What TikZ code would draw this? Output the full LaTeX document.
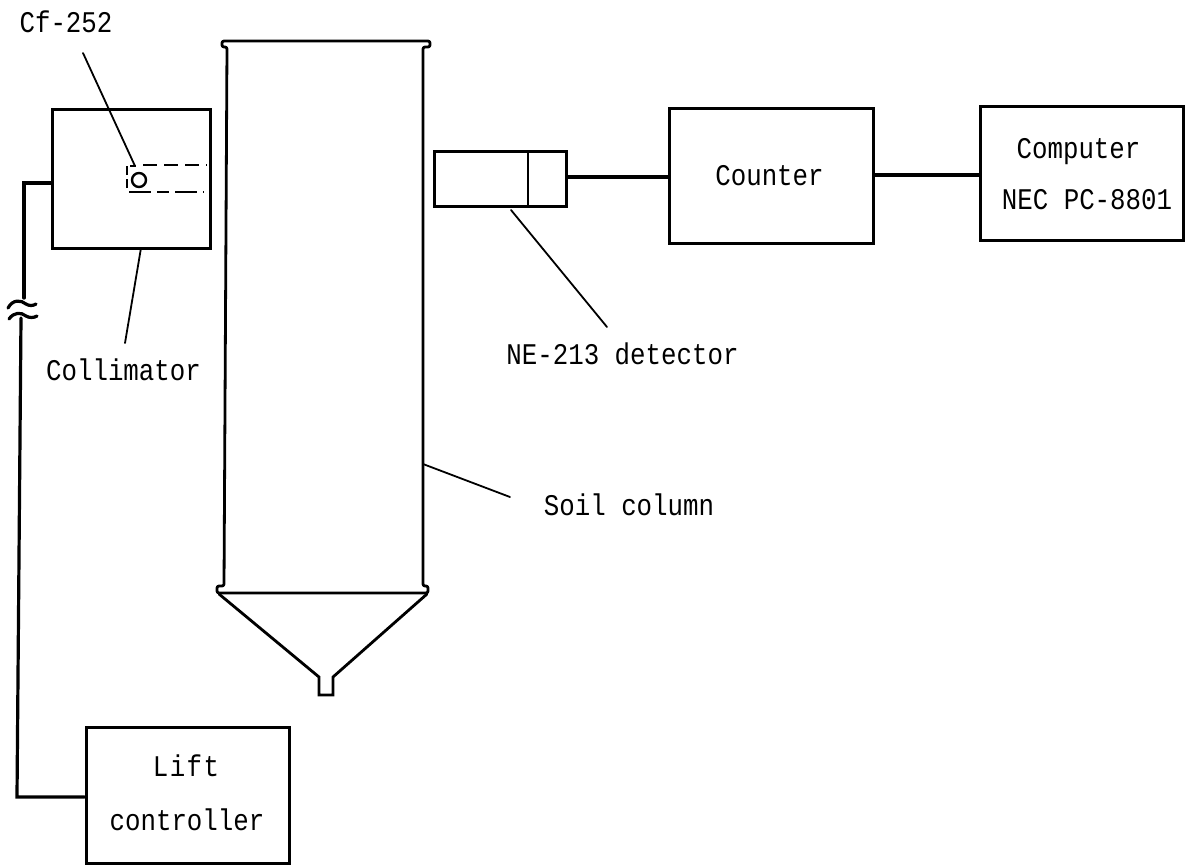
\documentclass[tikz,border=0pt]{standalone}
\usepackage{fontspec}
\setmainfont{Liberation Mono}[FakeStretch=0.86]
\usetikzlibrary{calc}
\tikzset{
  x=1pt,y=-1pt,
  wire/.style={line width=3.2pt,line join=miter,line cap=round},
  rim/.style={line width=2.8pt,line join=round,rounded corners=2pt},
  dashwire/.style={line width=2.8pt},
  thin wire/.style={line width=1.8pt,line cap=round},
  box/.style={draw,line width=3pt,inner sep=0pt},
  lbl/.style={inner sep=0pt,font=\fontsize{30}{34}\selectfont}
}
\begin{document}
\begin{tikzpicture}
\useasboundingbox (0,0) rectangle (1185,865);
% boxes
\node[box,minimum width=158pt,minimum height=139pt] (coll) at (131,178.5) {};
\node[box,minimum width=203pt,minimum height=136pt] (lift) at (187.5,795) {};
\node[box,minimum width=204pt,minimum height=135pt] (counter) at (771,175.5) {};
\node[box,minimum width=203pt,minimum height=134pt] (comp) at (1081.5,173) {};
\node[box,minimum width=132pt,minimum height=55pt] (det) at (500,178.5) {};
\draw[thin wire] (528,151) -- (528,206);
% soil column
\draw[rim] (224,586) -- (227,47) -- (222,47) -- (222,41) -- (430,41) -- (430,47) -- (423,47) -- (423,586) -- (428,586) -- (428,593) -- (217,593) -- (217,586) -- cycle;
\node[inner sep=0pt,minimum size=0pt] (colR) at (423,464) {};
% funnel
\draw[wire,line width=2.8pt] (219,594) -- (319,677) -- (319,695) -- (333,695) -- (333,677) -- (427,594);
% source
\node[circle,draw,line width=2.4pt,minimum size=14pt,inner sep=0pt] (src) at (139,180) {};
\draw[dashwire,dash pattern=on 9pt off 4pt on 9pt off 3pt] (127,188) -- (127,166) -- (136,166);
\draw[dashwire,dash pattern=on 14pt off 7pt] (143,165) -- (207,165);
\draw[dashwire,dash pattern=on 22pt off 6pt on 12pt off 6pt] (129,192) -- (204,192);
% connectors
\coordinate (w1) at (24,183);
\coordinate (w2) at (24,298);
\coordinate (w3) at (21,318);
\coordinate (w4) at (17,797);
\draw[wire] (coll.west |- w1) -- (w1) -- (w2);
\draw[wire] (w3) -- (w4) -- (lift.west |- w4);
\draw[wire] (8,308) .. controls (13,299) and (21,300) .. (26,304) .. controls (29,306) and (33,306) .. (36,304);
\draw[wire] (9,319) .. controls (14,312) and (21,312) .. (26,316) .. controls (29,318) and (34,318) .. (37,316);
\draw[wire] (det.east |- 0,177) -- (counter.west |- 0,177);
\draw[wire] (counter.east |- 0,175) -- (comp.west |- 0,175);
% labels
\node[lbl] (cf) at (66,22) {Cf-252};
\node[lbl] (colltx) at (123.5,370) {Collimator};
\node[lbl] (lifttx) at (186,766) {\addfontfeatures{LetterSpace=5}Lift};
\node[lbl] (ctrltx) at (187,820) {controller};
\node[lbl] (cnt) at (769.5,176) {Counter};
\node[lbl] (comp1) at (1078.5,152) {Computer};
\node[lbl] (comp2) at (1087,200) {NEC PC-8801};
\node[lbl] (netx) at (622.5,354) {NE-213 detector};
\node[lbl] (soil) at (629,505) {Soil column};
% leaders
\coordinate (l1) at (83,53);
\coordinate (l2) at (135,166);
\coordinate (l3) at (141,248);
\coordinate (l4) at (125,343);
\coordinate (l5) at (511,210);
\coordinate (l6) at (607,327);
\coordinate (l7) at (510,497);
\draw[thin wire] (l1) -- (l2);
\draw[thin wire] (l3) -- (l4);
\draw[thin wire] (l5) -- (l6);
\draw[thin wire] (colR) -- (l7);
\end{tikzpicture}
\end{document}
